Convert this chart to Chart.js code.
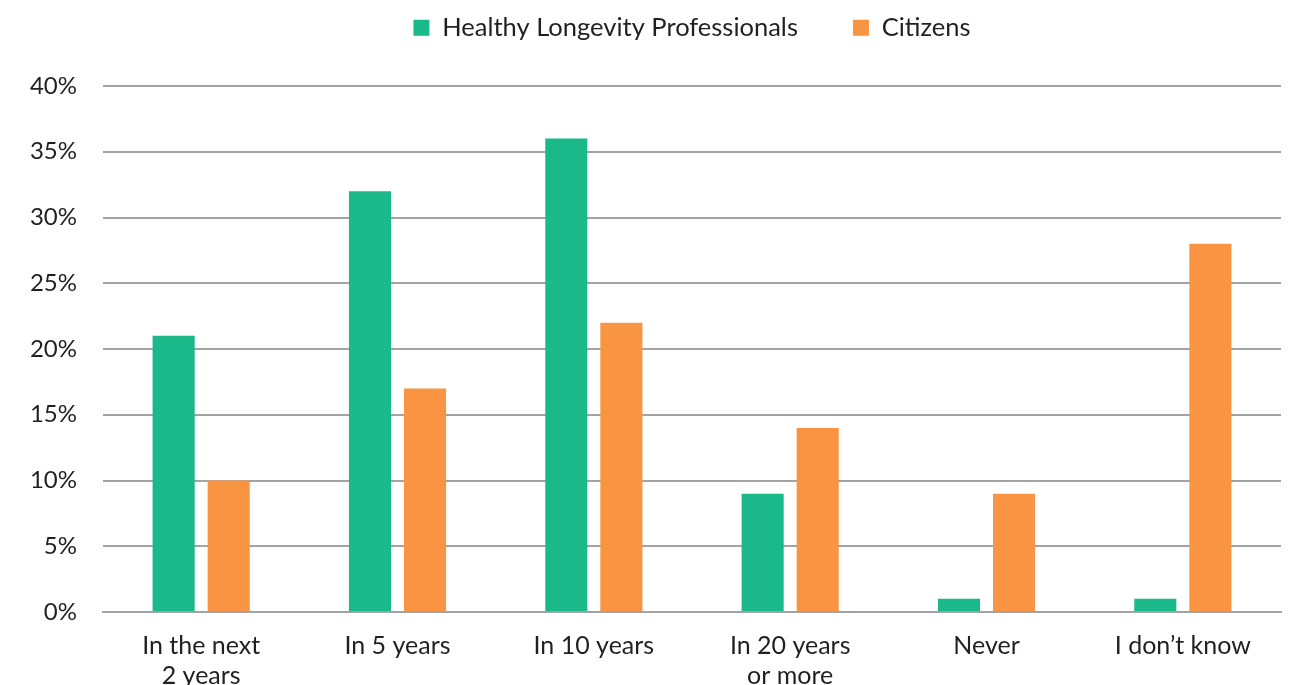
<!DOCTYPE html>
<html lang="en">
<head>
    <meta charset="UTF-8">
    <script src="https://cdn.jsdelivr.net/npm/chart.js"></script>
    <style>
        html, body { margin: 0; padding: 0; background: #fff; }
        #chartDiv { width: 1293px; height: 685px; }
    </style>
    <title>Healthy longevity</title>
</head>
<body>
    <div id="chartDiv">
        <canvas id="barChart"></canvas>
    </div>
<script>
    // categories and values (percent)
    var categories = [["In the next", "2 years"], "In 5 years", "In 10 years", ["In 20 years", "or more"], "Never", "I don\u2019t know"];
    var professionals = [21, 32, 36, 9, 1, 1];
    var citizens = [10, 17, 22, 14, 9, 28];
    var seriesNames = ["Healthy Longevity Professionals", "Citizens"];

    Chart.defaults.font.family = "Lato, 'Open Sans', sans-serif";
    Chart.defaults.color = "#231f20";

    // make the legend box taller so the plot starts lower
    var legendHeight = {
        id: 'legendHeight',
        beforeInit: function(chart) {
            var fit = chart.legend.fit;
            chart.legend.fit = function() {
                fit.bind(chart.legend)();
                this.height = 126;
            };
        }
    };

    const ctx = document.getElementById('barChart');

    var chart = new Chart(ctx, {
        type: 'bar',
        data: {
            labels: categories,
            datasets: [
                {
                    label: seriesNames[0],
                    data: professionals,
                    backgroundColor: '#1bb98a'
                },
                {
                    label: seriesNames[1],
                    data: citizens,
                    backgroundColor: '#f99443'
                }
            ]
        },
        plugins: [legendHeight],
        options: {
            responsive: true,
            maintainAspectRatio: false,
            animation: false,
            categoryPercentage: 0.561,
            barPercentage: 0.764,
            layout: {
                padding: { left: 0, right: 12, top: -40, bottom: 0 }
            },
            plugins: {
                tooltip: { enabled: false },
                legend: {
                    position: 'top',
                    fullSize: false,
                    labels: {
                        boxWidth: 16,
                        boxHeight: 16,
                        padding: 55,
                        font: { size: 25.5 }
                    }
                }
            },
            scales: {
                x: {
                    grid: { display: false },
                    border: { color: '#a3a3a3', width: 2 },
                    ticks: {
                        padding: 11,
                        maxRotation: 0,
                        autoSkip: false,
                        font: { size: 25, lineHeight: 1.2 }
                    },
                    afterFit: function(s) { s.height = 73; }
                },
                y: {
                    min: 0,
                    max: 40,
                    grid: { color: '#a3a3a3', lineWidth: 2, drawTicks: false },
                    border: { display: false },
                    ticks: {
                        stepSize: 5,
                        padding: 26,
                        font: { size: 24 },
                        callback: function(v) { return v + '%'; }
                    },
                    afterFit: function(s) { s.width = 103; }
                }
            }
        }
    });
</script>
</body>
</html>
